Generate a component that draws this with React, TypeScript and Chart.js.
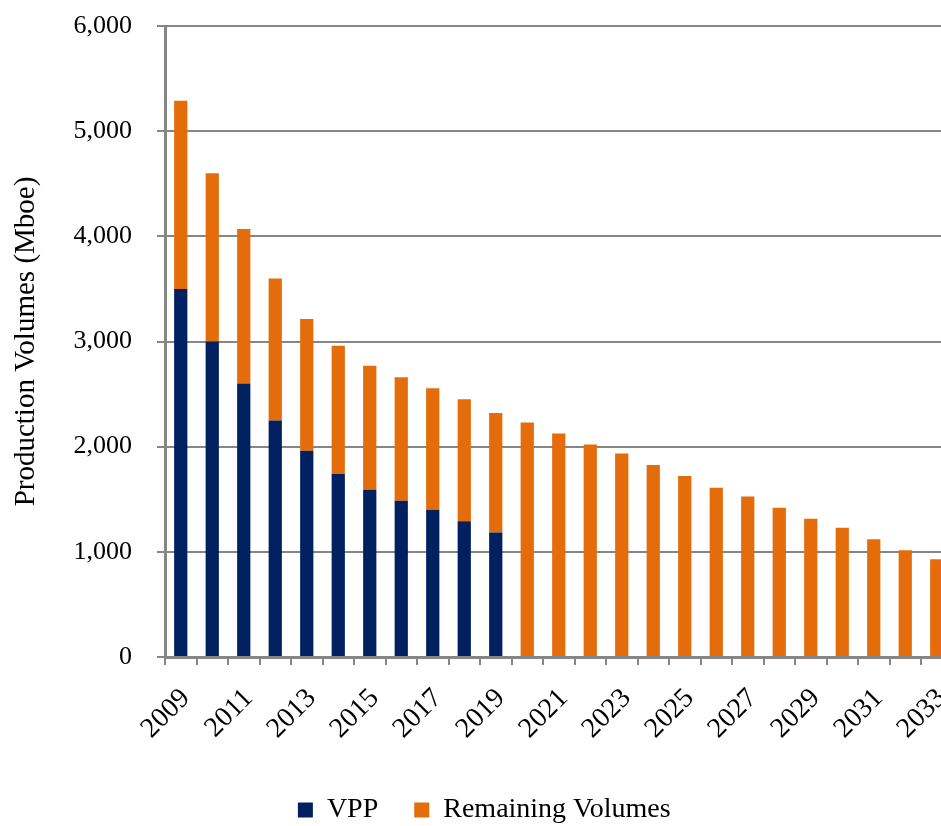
import React, { useEffect, useRef } from 'react';
import { Chart, registerables } from 'chart.js';

Chart.register(...registerables);

const years = [
  '2009', '2010', '2011', '2012', '2013', '2014', '2015', '2016', '2017',
  '2018', '2019', '2020', '2021', '2022', '2023', '2024', '2025', '2026',
  '2027', '2028', '2029', '2030', '2031', '2032', '2033',
];

const vpp = [
  3500, 3000, 2600, 2250, 1960, 1740, 1590, 1485, 1400, 1290, 1185,
  0, 0, 0, 0, 0, 0, 0, 0, 0, 0, 0, 0, 0, 0,
];

const remaining = [
  1790, 1600, 1470, 1350, 1255, 1220, 1180, 1175, 1155, 1160, 1135,
  2230, 2125, 2020, 1935, 1825, 1720, 1610, 1525, 1420, 1315, 1230, 1120, 1015, 930,
];

const yTicks = [0, 1000, 2000, 3000, 4000, 5000, 6000];

const FAMILY = "'Liberation Serif', 'Times New Roman', serif";
const GRID = '#868686';
const NAVY = '#002060';
const ORANGE = '#E46C0A';

export default function App() {
  const ref = useRef<HTMLCanvasElement>(null);

  useEffect(() => {
    const canvas = ref.current;
    if (!canvas) return;
    const chart = new Chart(canvas, {
      type: 'bar',
      data: {
        labels: years,
        datasets: [
          {
            label: 'VPP',
            data: vpp,
            backgroundColor: NAVY,
            borderWidth: 0,
            barPercentage: 0.42,
            categoryPercentage: 1,
          },
          {
            label: 'Remaining Volumes',
            data: remaining,
            backgroundColor: ORANGE,
            borderWidth: 0,
            barPercentage: 0.42,
            categoryPercentage: 1,
          },
        ],
      },
      options: {
        animation: false,
        responsive: false,
        devicePixelRatio: 1,
        layout: { padding: { top: 26, right: 7.5, left: 16, bottom: 0 } },
        plugins: {
          legend: {
            position: 'bottom',
            labels: {
              font: { family: FAMILY, size: 28 },
              color: '#000',
              boxWidth: 15,
              boxHeight: 15,
              padding: 36,
            },
          },
          tooltip: { enabled: false },
        },
        scales: {
          x: {
            stacked: true,
            grid: {
              offset: true,
              drawOnChartArea: false,
              drawTicks: true,
              tickLength: 8,
              color: GRID,
              lineWidth: 2,
            },
            border: { display: true, color: GRID, width: 3 },
            ticks: {
              autoSkip: false,
              maxRotation: 45,
              minRotation: 45,
              padding: 17,
              labelOffset: 5,
              color: '#000',
              font: { family: FAMILY, size: 28 },
              callback: (_v: any, i: number) => (i % 2 === 0 ? years[i] : ''),
            },
            afterFit: (s: any) => {
              s.height = 103;
              s.paddingLeft = 0;
              s.paddingRight = 0;
            },
          },
          y: {
            stacked: true,
            min: 0,
            max: 6000,
            afterBuildTicks: (s: any) => {
              s.ticks = yTicks.map((v) => ({ value: v }));
            },
            ticks: {
              padding: 25,
              color: '#000',
              font: { family: FAMILY, size: 26 },
              callback: (v: any) => Number(v).toLocaleString('en-US'),
            },
            grid: {
              color: GRID,
              lineWidth: 2,
              tickLength: 8,
              drawTicks: true,
            },
            border: { display: true, color: GRID, width: 3 },
            title: {
              display: true,
              text: 'Production Volumes (Mboe)',
              color: '#000',
              font: { family: FAMILY, size: 29 },
              padding: { top: -7, bottom: 0 },
            },
            afterFit: (s: any) => {
              s.width = 149;
              s.paddingTop = 0;
              s.paddingBottom = 0;
            },
          },
        },
      },
    } as any);
    return () => chart.destroy();
  }, []);

  return (
    <div
      style={{
        position: 'absolute',
        left: 0,
        top: 0,
        width: 941,
        height: 826,
        overflow: 'hidden',
        background: '#fff',
      }}
    >
      <canvas
        ref={ref}
        width={960}
        height={834}
        style={{ display: 'block', width: 960, height: 834 }}
      />
    </div>
  );
}
